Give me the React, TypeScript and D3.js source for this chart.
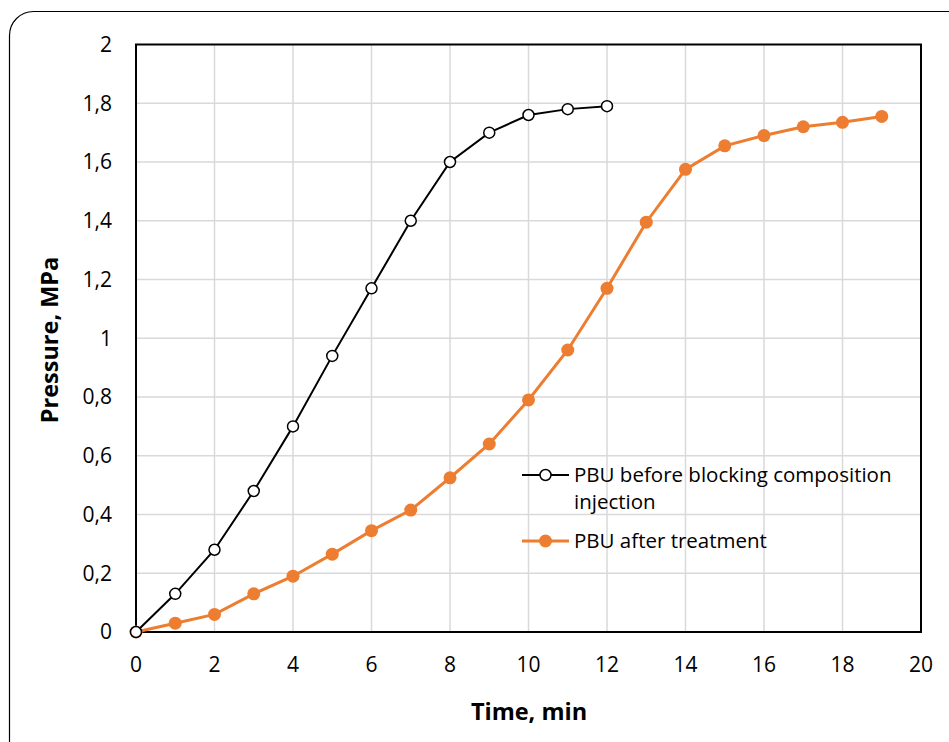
import React from "react";
import * as d3 from "d3";

const timeBefore = [0, 1, 2, 3, 4, 5, 6, 7, 8, 9, 10, 11, 12];
const pressureBefore = [0, 0.13, 0.28, 0.48, 0.7, 0.94, 1.17, 1.4, 1.6, 1.7, 1.76, 1.78, 1.79];

const timeAfter = [0, 1, 2, 3, 4, 5, 6, 7, 8, 9, 10, 11, 12, 13, 14, 15, 16, 17, 18, 19];
const pressureAfter = [
  0, 0.03, 0.06, 0.13, 0.19, 0.265, 0.345, 0.415, 0.525, 0.64, 0.79, 0.96, 1.17, 1.395,
  1.575, 1.655, 1.69, 1.72, 1.735, 1.755,
];

const xTicks = [0, 2, 4, 6, 8, 10, 12, 14, 16, 18, 20];
const yTicks = [0, 0.2, 0.4, 0.6, 0.8, 1, 1.2, 1.4, 1.6, 1.8, 2];

const seriesNames = ["PBU before blocking composition", "injection", "PBU after treatment"];

const W = 949;
const H = 742;
const FONT = "'Open Sans', 'Noto Sans', sans-serif";
const ORANGE = "#ED7D31";

const App = () => {
  const x = d3.scaleLinear().domain([0, 20]).range([136, 921]);
  const y = d3.scaleLinear().domain([0, 2]).range([632, 44.5]);

  const lineGen = d3
    .line<[number, number]>()
    .x((d) => x(d[0]))
    .y((d) => y(d[1]));

  const before: [number, number][] = timeBefore.map((t, i) => [t, pressureBefore[i]]);
  const after: [number, number][] = timeAfter.map((t, i) => [t, pressureAfter[i]]);

  const fmt = (v: number) => String(+v.toFixed(1)).replace(".", ",");

  return (
    <svg
      width={W}
      height={H}
      style={{ position: "absolute", left: 0, top: 0, background: "#fff" }}
      fontFamily={FONT}
    >
      <rect x={9.5} y={11.5} width={970} height={760} rx={24} fill="#fff" stroke="#000" strokeWidth={1.2} />

      {/* grid */}
      {xTicks.slice(1, -1).map((t) => (
        <line key={"gx" + t} x1={x(t)} x2={x(t)} y1={y(0)} y2={y(2)} stroke="#d9d9d9" strokeWidth={1.5} />
      ))}
      {yTicks.slice(1, -1).map((t) => (
        <line key={"gy" + t} x1={x(0)} x2={x(20)} y1={y(t)} y2={y(t)} stroke="#d9d9d9" strokeWidth={1.5} />
      ))}
      <rect x={x(0)} y={y(2)} width={x(20) - x(0)} height={y(0) - y(2)} fill="none" stroke="#000" strokeWidth={2} />

      {/* tick labels */}
      {yTicks.map((t) => (
        <text key={"ty" + t} x={112} y={y(t)} dy="0.35em" textAnchor="end" fontSize={21} fill="#000">
          {fmt(t)}
        </text>
      ))}
      {xTicks.map((t) => (
        <text key={"tx" + t} x={x(t)} y={665} dy="0.35em" textAnchor="middle" fontSize={21} fill="#000">
          {t}
        </text>
      ))}

      {/* axis titles */}
      <text x={529} y={712} dy="0.35em" textAnchor="middle" fontSize={23.5} fontWeight="bold">
        Time, min
      </text>
      <text
        transform={`translate(50,340) rotate(-90)`}
        dy="0.35em"
        textAnchor="middle"
        fontSize={23.5}
        fontWeight="bold"
      >
        Pressure, MPa
      </text>

      {/* series */}
      <path d={lineGen(after) || ""} fill="none" stroke={ORANGE} strokeWidth={3} />
      {after.map((d, i) => (
        <circle key={"a" + i} cx={x(d[0])} cy={y(d[1])} r={6.5} fill={ORANGE} />
      ))}
      <path d={lineGen(before) || ""} fill="none" stroke="#000" strokeWidth={2} />
      {before.map((d, i) => (
        <circle key={"b" + i} cx={x(d[0])} cy={y(d[1])} r={5.5} fill="#fff" stroke="#000" strokeWidth={1.5} />
      ))}

      {/* legend */}
      <g>
        <line x1={522} x2={569} y1={475} y2={475} stroke="#000" strokeWidth={2} />
        <circle cx={545.5} cy={475} r={5.5} fill="#fff" stroke="#000" strokeWidth={1.5} />
        <text x={574} y={475} dy="0.35em" fontSize={20.5}>
          {seriesNames[0]}
        </text>
        <text x={574} y={502} dy="0.35em" fontSize={20.5}>
          {seriesNames[1]}
        </text>
        <line x1={522} x2={569} y1={541} y2={541} stroke={ORANGE} strokeWidth={3} />
        <circle cx={545.5} cy={541} r={6.5} fill={ORANGE} />
        <text x={574} y={541} dy="0.35em" fontSize={20.5}>
          {seriesNames[2]}
        </text>
      </g>
    </svg>
  );
};

export default App;
